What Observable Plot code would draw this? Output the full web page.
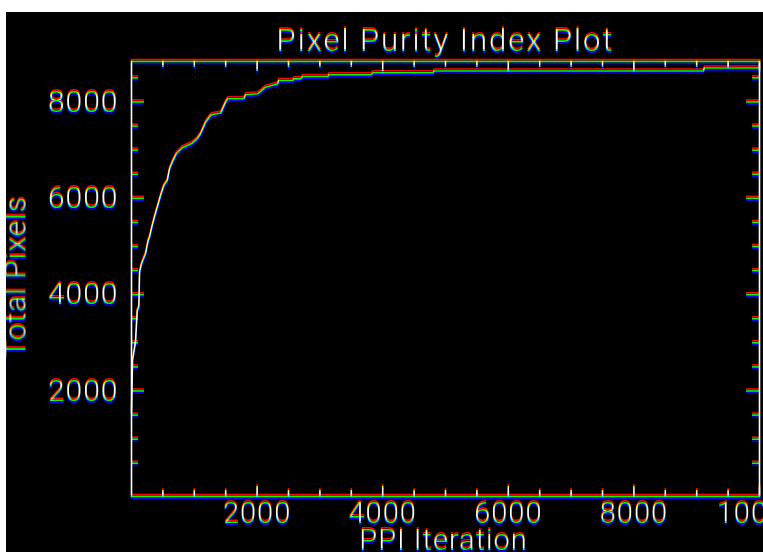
<!DOCTYPE html>
<html>
<head>
<meta charset="utf-8">
<script src="https://cdn.jsdelivr.net/npm/d3@7"></script>
<script src="https://cdn.jsdelivr.net/npm/@observablehq/plot@0.6"></script>
<style>
  html, body { margin: 0; padding: 0; background: #fff; overflow: hidden; }
  #chart { position: absolute; left: 6px; top: 12px; }
  #chart svg text { letter-spacing: 1px; font-weight: 300; }
</style>
</head>
<body>
<div id="chart"></div>
<script>
// ---- data ----
const title = "Pixel Purity Index Plot";
const xLabel = "PPI Iteration";
const yLabel = "Total Pixels";

const iterations = [0, 16, 64, 91, 117, 128, 160, 223, 266, 287, 330, 372, 410, 463, 515, 569, 606, 649, 713, 809, 888, 968, 1048, 1100, 1180, 1260, 1292, 1420, 1499, 1531, 1786, 1818, 2010, 2137, 2329, 2345, 2568, 2584, 2696, 2727, 3126, 3142, 3812, 3844, 4801, 4817, 9107, 9123, 10000];
const totalPixels = [1540, 2635, 3015, 3673, 3741, 4468, 4641, 4849, 5125, 5194, 5437, 5644, 5816, 6059, 6267, 6370, 6613, 6750, 6924, 7049, 7097, 7145, 7240, 7339, 7580, 7719, 7740, 7770, 7995, 8066, 8066, 8149, 8170, 8306, 8377, 8445, 8445, 8480, 8480, 8528, 8528, 8564, 8564, 8605, 8605, 8642, 8642, 8705, 8705];

const xMajorTicks = [2000, 4000, 6000, 8000, 10000];
const xTickLabels = ["2000", "4000", "6000", "8000", "10000"];
const xMinorTicks = [500, 1000, 1500, 2500, 3000, 3500, 4500, 5000, 5500, 6500, 7000, 7500, 8500, 9000, 9500];
const yMajorTicks = [2000, 4000, 6000, 8000];
const yTickLabels = ["2000", "4000", "6000", "8000"];
const yMinorTicks = [500, 1000, 1500, 2500, 3000, 3500, 4500, 5000, 5500, 6500, 7000, 7500, 8500];

const xDomain = [0, 10000];
const yDomain = [-190, 8840];

// ---- build ----
const data = iterations.map((x, i) => ({x, y: totalPixels[i]}));
const xLab = new Map(xMajorTicks.map((v, i) => [v, xTickLabels[i]]));
const yLab = new Map(yMajorTicks.map((v, i) => [v, yTickLabels[i]]));

const W = 757, H = 540, mL = 125, mR = 4, mT = 49, mB = 56;
const pw = W - mL - mR, ph = H - mT - mB;
const sw = 1.6;
const font = "Roboto, 'Liberation Sans', Arial, sans-serif";

const svg = Plot.plot({
  width: W, height: H,
  marginLeft: mL, marginRight: mR, marginTop: mT, marginBottom: mB,
  style: {background: "black", color: "white", fontFamily: font, overflow: "hidden"},
  x: {domain: xDomain},
  y: {domain: yDomain},
  marks: [
    Plot.frame({stroke: "white", strokeWidth: sw}),
    // left / right y ticks (inward)
    Plot.tickY(yMajorTicks, {y: d => d, stroke: "white", strokeWidth: sw, insetRight: pw - 13}),
    Plot.tickY(yMajorTicks, {y: d => d, stroke: "white", strokeWidth: sw, insetLeft: pw - 13}),
    Plot.tickY(yMinorTicks, {y: d => d, stroke: "white", strokeWidth: sw, insetRight: pw - 7}),
    Plot.tickY(yMinorTicks, {y: d => d, stroke: "white", strokeWidth: sw, insetLeft: pw - 7}),
    // bottom / top x ticks (inward)
    Plot.tickX(xMajorTicks, {x: d => d, stroke: "white", strokeWidth: sw, insetTop: ph - 10}),
    Plot.tickX(xMajorTicks, {x: d => d, stroke: "white", strokeWidth: sw, insetBottom: ph - 10}),
    Plot.tickX(xMinorTicks, {x: d => d, stroke: "white", strokeWidth: sw, insetTop: ph - 6}),
    Plot.tickX(xMinorTicks, {x: d => d, stroke: "white", strokeWidth: sw, insetBottom: ph - 6}),
    // curve
    Plot.line(data, {x: "x", y: "y", stroke: "white", strokeWidth: sw}),
    // tick labels
    Plot.axisY(yMajorTicks, {anchor: "left", tickSize: 0, tickPadding: 13, fontSize: 30, fill: "white", tickFormat: d => yLab.get(d), label: null}),
    Plot.axisX(xMajorTicks, {anchor: "bottom", tickSize: 0, tickPadding: 6, fontSize: 29, fill: "white", tickFormat: d => xLab.get(d), label: null}),
    // titles
    Plot.text([title], {text: d => d, frameAnchor: "top", textAnchor: "middle", lineAnchor: "bottom", dy: -11, fontSize: 31, fill: "white"}),
    Plot.text([xLabel], {text: d => d, frameAnchor: "bottom", textAnchor: "middle", lineAnchor: "bottom", dy: 53, dx: -2, fontSize: 29, fill: "white"}),
    Plot.text([yLabel], {text: d => d, frameAnchor: "left", textAnchor: "middle", lineAnchor: "middle", rotate: -90, dx: -116, dy: -2, fontSize: 30, fill: "white"})
  ]
});

// title letter spacing
d3.select(svg).selectAll("text").filter(function() { return this.textContent === title; }).style("letter-spacing", "2px");

// chromatic fringe (R shifted up, B shifted down) like the reference raster
const ns = "http://www.w3.org/2000/svg";
const defs = document.createElementNS(ns, "defs");
defs.innerHTML = `
<filter id="fringe" filterUnits="userSpaceOnUse" x="0" y="0" width="${W}" height="${H}" color-interpolation-filters="sRGB">
  <feColorMatrix in="SourceGraphic" type="matrix" values="1 0 0 0 0  0 0 0 0 0  0 0 0 0 0  0 0 0 1 0" result="r"/>
  <feOffset in="r" dx="0" dy="-1.7" result="r2"/>
  <feColorMatrix in="SourceGraphic" type="matrix" values="0 0 0 0 0  0 1 0 0 0  0 0 0 0 0  0 0 0 1 0" result="g"/>
  <feColorMatrix in="SourceGraphic" type="matrix" values="0 0 0 0 0  0 0 0 0 0  0 0 1 0 0  0 0 0 1 0" result="b"/>
  <feOffset in="b" dx="0" dy="1.7" result="b2"/>
  <feBlend in="r2" in2="g" mode="screen" result="rg"/>
  <feBlend in="rg" in2="b2" mode="screen"/>
</filter>`;
const g = document.createElementNS(ns, "g");
g.setAttribute("filter", "url(#fringe)");
const bg = document.createElementNS(ns, "rect");
bg.setAttribute("width", W); bg.setAttribute("height", H); bg.setAttribute("fill", "black");
g.appendChild(bg);
Array.from(svg.childNodes).forEach(n => { if (n.nodeName.toLowerCase() !== "style") g.appendChild(n); });
svg.appendChild(defs);
svg.appendChild(g);

document.getElementById("chart").appendChild(svg);
</script>
</body>
</html>
